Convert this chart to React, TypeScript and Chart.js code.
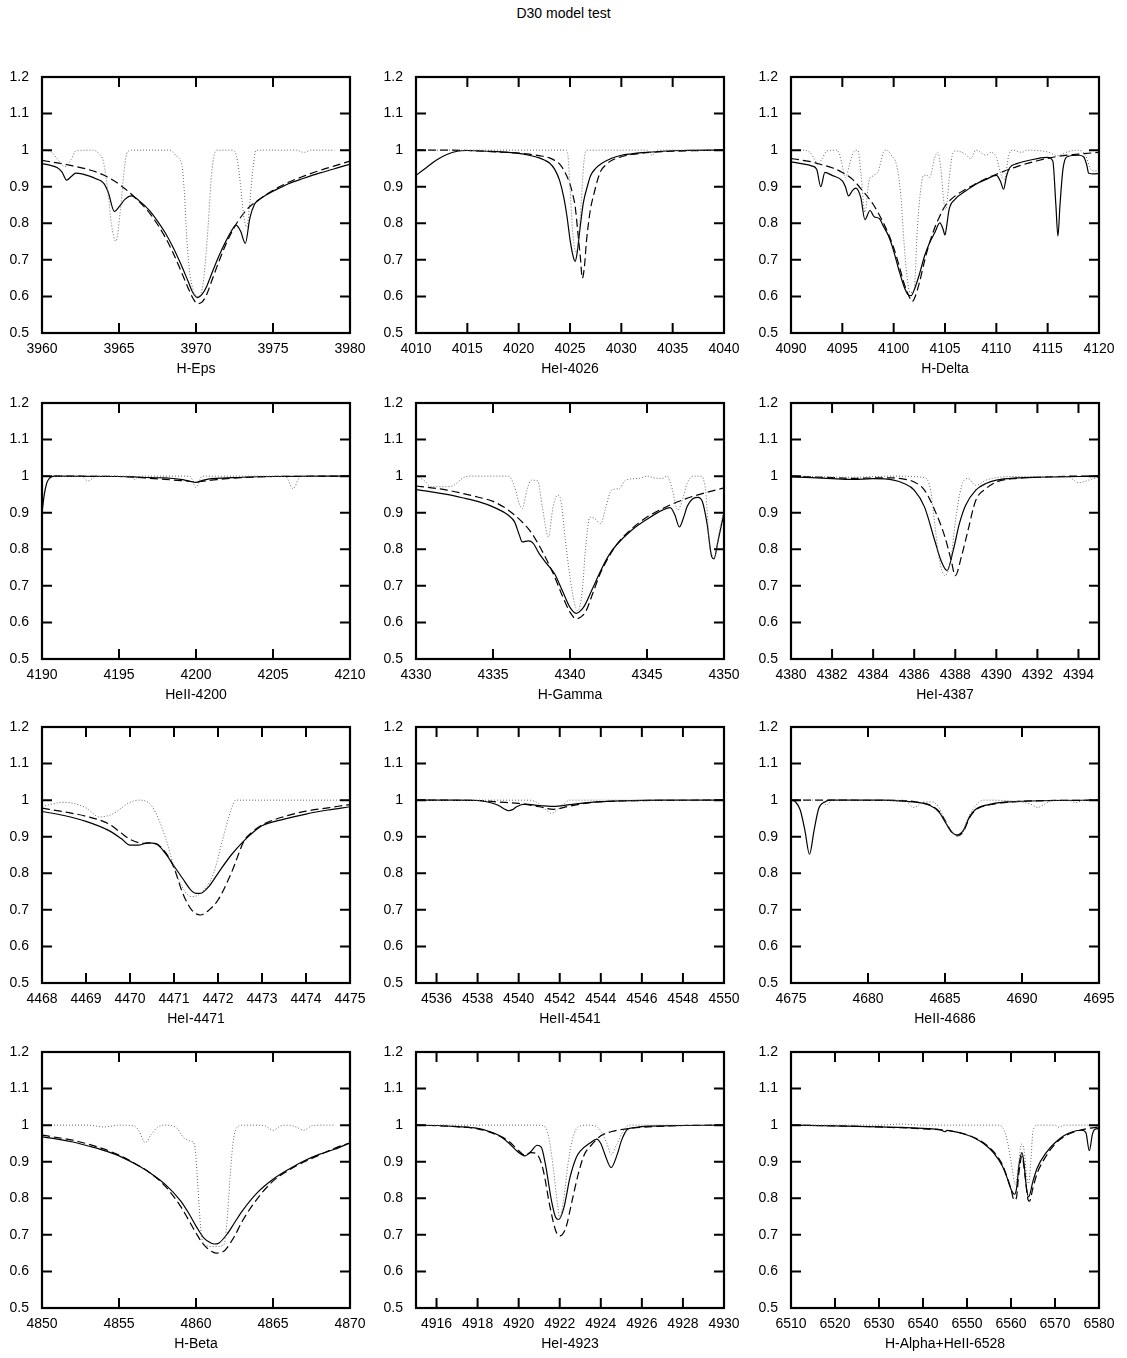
import React, { useEffect, useRef } from 'react';
import { Chart, registerables } from 'chart.js';

Chart.register(...registerables);

type Pt = [number, number];

// ---------- shared axis values ----------
const yTicks = [0.5, 0.6, 0.7, 0.8, 0.9, 1.0, 1.1, 1.2];
const yRange: [number, number] = [0.5, 1.2];
const figureTitle = 'D30 model test';

// ---------- H-Eps ----------
const hEpsRange: [number, number] = [3960, 3980];
const hEpsTicks = [3960, 3965, 3970, 3975, 3980];
const hEpsSolid: Pt[] = [[3960,0.963],[3960.5,0.959],[3961,0.952],[3961.3,0.94],[3961.6,0.918],[3961.9,0.928],[3962.2,0.937],[3962.6,0.935],[3963,0.93],[3963.5,0.922],[3964,0.91],[3964.3,0.885],[3964.7,0.832],[3965,0.845],[3965.4,0.866],[3965.8,0.875],[3966.3,0.862],[3967,0.834],[3967.5,0.806],[3968,0.774],[3968.5,0.735],[3969,0.69],[3969.5,0.64],[3969.8,0.61],[3970.1,0.597],[3970.4,0.606],[3970.7,0.628],[3971,0.66],[3971.5,0.712],[3972,0.756],[3972.3,0.779],[3972.6,0.795],[3972.9,0.778],[3973.2,0.745],[3973.5,0.815],[3973.8,0.852],[3974,0.861],[3974.5,0.876],[3975,0.888],[3975.5,0.898],[3976,0.908],[3977,0.923],[3978,0.937],[3979,0.949],[3980,0.962]];
const hEpsDashed: Pt[] = [[3960,0.972],[3961,0.965],[3962,0.957],[3963,0.947],[3964,0.932],[3965,0.907],[3966,0.872],[3967,0.827],[3968,0.762],[3968.5,0.72],[3969,0.672],[3969.5,0.622],[3969.8,0.595],[3970.1,0.58],[3970.4,0.585],[3970.7,0.606],[3971,0.64],[3971.5,0.697],[3972,0.748],[3972.5,0.79],[3973,0.822],[3973.5,0.846],[3974,0.862],[3975,0.89],[3976,0.912],[3977,0.929],[3978,0.944],[3979,0.957],[3980,0.97]];
const hEpsDotted: Pt[] = [[3960,1.0],[3960.6,0.995],[3961,0.975],[3961.5,0.955],[3961.9,0.975],[3962.2,0.998],[3963.3,1.0],[3963.7,0.99],[3964,0.966],[3964.3,0.88],[3964.5,0.8],[3964.8,0.751],[3965.1,0.84],[3965.3,0.93],[3965.5,0.99],[3965.8,1.0],[3968.3,1.0],[3968.7,0.985],[3969.1,0.955],[3969.25,0.88],[3969.4,0.76],[3969.55,0.68],[3969.8,0.62],[3970.1,0.6],[3970.4,0.62],[3970.6,0.69],[3970.8,0.8],[3971,0.93],[3971.2,0.99],[3971.4,1.0],[3972.4,1.0],[3972.7,0.97],[3972.9,0.9],[3973.1,0.82],[3973.3,0.79],[3973.5,0.86],[3973.7,0.95],[3973.9,1.0],[3976.5,1.0],[3977,0.994],[3977.5,1.0],[3979,1.0]];

// ---------- HeI-4026 ----------
const he4026Range: [number, number] = [4010, 4040];
const he4026Ticks = [4010, 4015, 4020, 4025, 4030, 4035, 4040];
const he4026Solid: Pt[] = [[4010,0.931],[4011,0.952],[4012,0.973],[4013,0.988],[4014,0.997],[4015,0.999],[4017,0.997],[4019,0.994],[4020,0.991],[4021,0.986],[4022,0.979],[4022.5,0.973],[4023,0.965],[4023.5,0.948],[4024,0.916],[4024.4,0.87],[4024.7,0.82],[4025,0.756],[4025.3,0.71],[4025.5,0.696],[4025.7,0.72],[4026,0.792],[4026.3,0.856],[4026.7,0.902],[4027,0.93],[4027.5,0.95],[4028,0.962],[4029,0.977],[4030,0.986],[4031,0.99],[4032,0.993],[4034,0.997],[4036,0.999],[4040,1.0]];
const he4026Dashed: Pt[] = [[4010,1.0],[4013,1.0],[4015,0.999],[4018,0.995],[4020,0.992],[4021,0.989],[4022,0.985],[4023,0.979],[4023.5,0.972],[4024,0.962],[4024.5,0.94],[4025,0.907],[4025.3,0.875],[4025.5,0.847],[4025.8,0.765],[4026,0.71],[4026.2,0.65],[4026.4,0.68],[4026.6,0.75],[4026.8,0.8],[4027,0.84],[4027.3,0.877],[4027.7,0.92],[4028,0.943],[4028.5,0.96],[4029,0.971],[4030,0.982],[4031,0.988],[4033,0.994],[4035,0.997],[4040,1.0]];
const he4026Dotted: Pt[] = [[4010,1.0],[4024.6,1.0],[4024.8,0.985],[4025,0.9],[4025.2,0.8],[4025.4,0.74],[4025.6,0.72],[4025.9,0.78],[4026.1,0.86],[4026.3,0.95],[4026.5,0.995],[4026.7,1.0],[4032.5,1.0],[4033,0.986],[4033.5,1.0],[4040,1.0]];

// ---------- H-Delta ----------
const hDeltaRange: [number, number] = [4090, 4120];
const hDeltaTicks = [4090, 4095, 4100, 4105, 4110, 4115, 4120];
const hDeltaSolid: Pt[] = [[4090,0.968],[4091,0.963],[4092,0.957],[4092.5,0.948],[4092.9,0.9],[4093.3,0.939],[4094,0.931],[4095,0.916],[4095.3,0.9],[4095.6,0.875],[4096,0.89],[4096.3,0.896],[4096.8,0.87],[4097.2,0.81],[4097.7,0.835],[4098.1,0.818],[4098.6,0.813],[4099,0.792],[4099.5,0.765],[4100,0.724],[4100.5,0.673],[4101,0.628],[4101.4,0.605],[4101.7,0.602],[4102,0.618],[4102.5,0.66],[4103,0.71],[4103.5,0.747],[4104,0.774],[4104.5,0.801],[4104.8,0.785],[4105,0.768],[4105.2,0.8],[4105.4,0.838],[4106,0.866],[4107,0.888],[4108,0.907],[4109,0.92],[4110,0.931],[4110.4,0.915],[4110.7,0.893],[4111,0.93],[4111.3,0.952],[4112,0.963],[4113,0.971],[4114,0.977],[4115,0.98],[4115.5,0.97],[4115.8,0.85],[4116,0.765],[4116.2,0.85],[4116.5,0.95],[4117,0.983],[4118,0.986],[4118.5,0.982],[4118.8,0.96],[4119,0.937],[4119.5,0.935],[4120,0.936]];
const hDeltaDashed: Pt[] = [[4090,0.977],[4091,0.973],[4092,0.968],[4093,0.96],[4094,0.952],[4095,0.939],[4096,0.92],[4097,0.888],[4098,0.852],[4099,0.801],[4099.5,0.77],[4100,0.733],[4100.5,0.687],[4101,0.637],[4101.5,0.6],[4101.8,0.586],[4102,0.593],[4102.5,0.637],[4103,0.696],[4103.5,0.747],[4104,0.788],[4104.5,0.82],[4105,0.847],[4106,0.875],[4107,0.893],[4108,0.908],[4109,0.922],[4110,0.934],[4112,0.955],[4114,0.971],[4116,0.983],[4118,0.989],[4120,0.994]];
const hDeltaDotted: Pt[] = [[4090,0.998],[4091,1.0],[4091.8,0.995],[4092.3,0.975],[4092.6,0.96],[4093,0.975],[4093.5,0.998],[4094.5,1.0],[4094.9,0.97],[4095.3,0.925],[4095.7,0.96],[4096,0.99],[4096.5,1.0],[4096.8,0.94],[4097.2,0.83],[4097.6,0.915],[4098,0.93],[4098.5,0.943],[4099,0.994],[4099.3,1.0],[4099.8,0.985],[4100.3,0.957],[4100.7,0.875],[4101,0.75],[4101.3,0.655],[4101.6,0.61],[4102,0.62],[4102.3,0.783],[4102.6,0.884],[4102.9,0.93],[4103.2,0.932],[4103.5,0.925],[4104,0.98],[4104.3,0.994],[4104.6,0.948],[4104.9,0.856],[4105.1,0.838],[4105.4,0.92],[4105.7,0.985],[4106,0.998],[4107,0.989],[4107.5,0.977],[4108,1.0],[4109,0.986],[4109.5,0.994],[4110,0.98],[4110.5,0.93],[4110.8,0.92],[4111.2,0.985],[4111.6,1.0],[4112.5,0.994],[4113,1.0],[4115,0.995],[4116,0.985],[4116.5,0.99],[4117,0.996],[4118,1.0],[4118.7,0.985],[4119.2,0.948],[4119.6,0.943],[4120,0.943]];

// ---------- HeII-4200 ----------
const he4200Range: [number, number] = [4190, 4210];
const he4200Ticks = [4190, 4195, 4200, 4205, 4210];
const he4200Solid: Pt[] = [[4190,0.9],[4190.15,0.95],[4190.3,0.98],[4190.5,0.995],[4190.8,1.0],[4195,0.999],[4196,0.998],[4197,0.996],[4198,0.995],[4199,0.991],[4199.5,0.987],[4200,0.983],[4200.5,0.989],[4201,0.993],[4202,0.995],[4203,0.997],[4205,0.999],[4210,1.0]];
const he4200Dashed: Pt[] = [[4190,1.0],[4195,0.999],[4196,0.997],[4197,0.994],[4198,0.991],[4199,0.988],[4200,0.985],[4201,0.989],[4202,0.993],[4203,0.996],[4205,0.999],[4210,1.0]];
const he4200Dotted: Pt[] = [[4190,1.0],[4192.5,1.0],[4193,0.987],[4193.5,1.0],[4195.7,1.0],[4196,0.991],[4196.4,1.0],[4199.6,1.0],[4200,0.969],[4200.4,1.0],[4205.8,1.0],[4206.3,0.966],[4206.8,1.0],[4208,1.0]];

// ---------- H-Gamma ----------
const hGammaRange: [number, number] = [4330, 4350];
const hGammaTicks = [4330, 4335, 4340, 4345, 4350];
const hGammaSolid: Pt[] = [[4330,0.963],[4331,0.957],[4332,0.95],[4333,0.941],[4334,0.931],[4335,0.916],[4336,0.893],[4336.4,0.875],[4336.7,0.84],[4336.9,0.82],[4337.3,0.823],[4337.6,0.817],[4338,0.788],[4338.5,0.76],[4339,0.733],[4339.5,0.687],[4340,0.641],[4340.4,0.625],[4340.8,0.637],[4341,0.65],[4341.5,0.696],[4342,0.742],[4342.5,0.782],[4343,0.811],[4344,0.852],[4345,0.882],[4346,0.907],[4346.5,0.914],[4346.8,0.895],[4347.1,0.861],[4347.4,0.89],[4347.6,0.916],[4348,0.939],[4348.3,0.942],[4348.6,0.93],[4348.9,0.87],[4349.2,0.78],[4349.35,0.774],[4349.6,0.82],[4350,0.9]];
const hGammaDashed: Pt[] = [[4330,0.973],[4331,0.968],[4332,0.962],[4333,0.953],[4334,0.943],[4335,0.931],[4336,0.907],[4337,0.87],[4337.5,0.845],[4338,0.81],[4338.5,0.77],[4339,0.725],[4339.5,0.673],[4340,0.628],[4340.4,0.61],[4340.7,0.615],[4341,0.628],[4341.5,0.682],[4342,0.737],[4343,0.811],[4344,0.856],[4345,0.888],[4346,0.911],[4347,0.93],[4348,0.945],[4349,0.957],[4350,0.968]];
const hGammaDotted: Pt[] = [[4330,1.0],[4330.5,0.989],[4331,0.971],[4332,0.971],[4332.5,0.976],[4333,0.994],[4333.5,1.0],[4336,1.0],[4336.4,0.972],[4336.7,0.925],[4336.9,0.911],[4337.2,0.962],[4337.5,0.989],[4337.9,0.987],[4338.2,0.916],[4338.6,0.834],[4338.9,0.916],[4339.2,0.948],[4339.4,0.935],[4339.7,0.824],[4340,0.724],[4340.3,0.651],[4340.5,0.632],[4340.8,0.687],[4341,0.798],[4341.3,0.888],[4341.6,0.884],[4342,0.87],[4342.3,0.911],[4342.7,0.962],[4343.2,0.966],[4343.6,0.989],[4344.5,0.994],[4345,1.0],[4345.5,0.995],[4346,0.994],[4346.3,1.0],[4346.6,0.971],[4347,0.907],[4347.3,0.935],[4347.6,0.98],[4348,1.0],[4348.5,1.0],[4348.8,0.962],[4349.1,0.798],[4349.4,0.78],[4349.7,0.85],[4350,0.907]];

// ---------- HeI-4387 ----------
const he4387Range: [number, number] = [4380, 4395];
const he4387Ticks = [4380, 4382, 4384, 4386, 4388, 4390, 4392, 4394];
const he4387Solid: Pt[] = [[4380,0.998],[4381,0.996],[4382,0.993],[4383,0.991],[4384,0.993],[4385,0.989],[4385.5,0.98],[4386,0.962],[4386.5,0.916],[4387,0.824],[4387.3,0.77],[4387.6,0.742],[4387.9,0.797],[4388.2,0.87],[4388.5,0.92],[4389,0.962],[4389.5,0.98],[4390,0.989],[4391,0.995],[4392,0.997],[4393,0.998],[4394,0.999],[4395,1.0]];
const he4387Dashed: Pt[] = [[4380,1.0],[4381,0.998],[4382,0.996],[4383,0.994],[4384,0.995],[4385,0.995],[4385.5,0.992],[4386,0.984],[4386.5,0.962],[4387,0.907],[4387.5,0.833],[4387.8,0.77],[4388,0.728],[4388.3,0.78],[4388.6,0.847],[4389,0.934],[4389.5,0.966],[4390,0.984],[4391,0.994],[4392,0.997],[4394,1.0],[4395,1.0]];
const he4387Dotted: Pt[] = [[4380,1.0],[4383,0.997],[4385,1.0],[4386.5,0.996],[4386.8,0.962],[4387,0.87],[4387.2,0.779],[4387.5,0.728],[4387.8,0.779],[4388,0.875],[4388.3,0.971],[4388.6,0.994],[4389,0.975],[4389.5,0.989],[4390,0.996],[4391,0.999],[4393.5,0.998],[4394,0.982],[4394.5,0.989],[4395,0.998]];

// ---------- HeI-4471 ----------
const he4471Range: [number, number] = [4468, 4475];
const he4471Ticks = [4468, 4469, 4470, 4471, 4472, 4473, 4474, 4475];
const he4471Solid: Pt[] = [[4468,0.969],[4468.5,0.958],[4469,0.942],[4469.5,0.918],[4469.8,0.895],[4470,0.877],[4470.2,0.877],[4470.4,0.883],[4470.6,0.88],[4470.8,0.855],[4471,0.82],[4471.2,0.785],[4471.4,0.752],[4471.5,0.745],[4471.6,0.745],[4471.8,0.765],[4472,0.8],[4472.3,0.85],[4472.6,0.89],[4472.8,0.912],[4473,0.93],[4473.5,0.948],[4474,0.962],[4474.5,0.973],[4475,0.982]];
const he4471Dashed: Pt[] = [[4468,0.978],[4468.5,0.968],[4469,0.956],[4469.5,0.936],[4469.8,0.91],[4470,0.893],[4470.3,0.882],[4470.5,0.883],[4470.7,0.872],[4470.9,0.84],[4471,0.815],[4471.2,0.745],[4471.4,0.7],[4471.6,0.686],[4471.8,0.7],[4472,0.727],[4472.3,0.8],[4472.6,0.89],[4472.8,0.915],[4473,0.932],[4473.5,0.955],[4474,0.97],[4474.5,0.979],[4475,0.988]];
const he4471Dotted: Pt[] = [[4468,0.983],[4468.5,0.994],[4469,0.979],[4469.3,0.954],[4469.6,0.962],[4470,0.994],[4470.2,1.0],[4470.5,0.983],[4470.8,0.9],[4471,0.818],[4471.2,0.76],[4471.4,0.736],[4471.6,0.745],[4471.9,0.8],[4472.1,0.89],[4472.3,0.975],[4472.4,1.0],[4475,1.0]];

// ---------- HeII-4541 ----------
const he4541Range: [number, number] = [4535, 4550];
const he4541Ticks = [4536, 4538, 4540, 4542, 4544, 4546, 4548, 4550];
const he4541Solid: Pt[] = [[4535,1.0],[4537,1.0],[4538,0.999],[4538.5,0.995],[4539,0.986],[4539.3,0.976],[4539.5,0.971],[4539.7,0.974],[4539.9,0.982],[4540.3,0.989],[4541,0.985],[4541.7,0.983],[4542.5,0.988],[4543.5,0.994],[4545,0.998],[4547,1.0],[4550,1.0]];
const he4541Dashed: Pt[] = [[4535,1.0],[4538,0.999],[4539,0.995],[4540,0.991],[4541,0.982],[4541.7,0.975],[4542.5,0.984],[4543.5,0.993],[4545,0.998],[4550,1.0]];
const he4541Dotted: Pt[] = [[4535,1.0],[4540.5,1.0],[4541,0.99],[4541.3,0.975],[4541.6,0.964],[4541.9,0.975],[4542.2,0.99],[4542.5,1.0],[4550,1.0]];

// ---------- HeII-4686 ----------
const he4686Range: [number, number] = [4675, 4695];
const he4686Ticks = [4675, 4680, 4685, 4690, 4695];
const he4686Solid: Pt[] = [[4675,1.0],[4675.3,0.995],[4675.6,0.973],[4675.9,0.918],[4676.2,0.852],[4676.5,0.918],[4676.8,0.977],[4677.2,0.995],[4677.5,1.0],[4681,1.0],[4682,0.998],[4683,0.995],[4684,0.986],[4684.6,0.968],[4685,0.941],[4685.4,0.914],[4685.8,0.905],[4686.2,0.918],[4686.6,0.955],[4687,0.975],[4688,0.989],[4689,0.995],[4690,0.997],[4692,0.999],[4695,1.0]];
const he4686Dashed: Pt[] = [[4675,1.0],[4682,0.999],[4683,0.996],[4684,0.987],[4684.6,0.97],[4685,0.945],[4685.4,0.915],[4685.8,0.902],[4686.2,0.915],[4686.6,0.952],[4687,0.973],[4688,0.988],[4689,0.994],[4690,0.997],[4695,1.0]];
const he4686Dotted: Pt[] = [[4675,1.0],[4677,1.0],[4677.3,0.986],[4677.7,1.0],[4682.3,1.0],[4683,0.98],[4683.6,0.995],[4684.2,0.995],[4684.6,0.98],[4685,0.945],[4685.5,0.91],[4686,0.903],[4686.5,0.952],[4687,0.985],[4687.5,1.0],[4690.5,0.99],[4691,0.98],[4691.5,0.99],[4692,1.0],[4693,1.0],[4693.5,0.993],[4694,1.0],[4695,1.0]];

// ---------- H-Beta ----------
const hBetaRange: [number, number] = [4850, 4870];
const hBetaTicks = [4850, 4855, 4860, 4865, 4870];
const hBetaSolid: Pt[] = [[4850,0.968],[4851,0.962],[4852,0.954],[4853,0.943],[4854,0.931],[4855,0.916],[4856,0.895],[4857,0.87],[4858,0.838],[4859,0.793],[4859.5,0.761],[4860,0.724],[4860.5,0.692],[4861,0.677],[4861.2,0.675],[4861.5,0.678],[4862,0.701],[4862.5,0.733],[4863,0.765],[4864,0.816],[4865,0.852],[4866,0.879],[4867,0.902],[4868,0.92],[4869,0.934],[4870,0.951]];
const hBetaDashed: Pt[] = [[4850,0.973],[4851,0.966],[4852,0.959],[4853,0.948],[4854,0.935],[4855,0.918],[4856,0.896],[4857,0.87],[4858,0.833],[4859,0.778],[4859.5,0.742],[4860,0.705],[4860.5,0.673],[4861,0.655],[4861.3,0.65],[4861.8,0.655],[4862,0.664],[4862.5,0.696],[4863,0.737],[4864,0.8],[4865,0.847],[4866,0.876],[4867,0.899],[4868,0.918],[4869,0.937],[4870,0.952]];
const hBetaDotted: Pt[] = [[4850,1.0],[4853,1.0],[4854,0.995],[4855,1.0],[4856,0.998],[4856.3,0.984],[4856.7,0.952],[4857.1,0.975],[4857.5,0.994],[4858,1.0],[4858.7,0.994],[4859.2,0.966],[4859.6,0.957],[4859.9,0.948],[4860.05,0.88],[4860.2,0.78],[4860.35,0.7],[4860.6,0.672],[4861.2,0.668],[4861.8,0.672],[4862,0.73],[4862.2,0.85],[4862.4,0.95],[4862.6,0.99],[4863,1.0],[4864,1.0],[4864.5,0.998],[4865,0.986],[4865.5,0.998],[4866,1.0],[4866.5,0.995],[4867,0.986],[4867.5,0.998],[4868,1.0],[4869,1.0]];

// ---------- HeI-4923 ----------
const he4923Range: [number, number] = [4915, 4930];
const he4923Ticks = [4916, 4918, 4920, 4922, 4924, 4926, 4928, 4930];
const he4923Solid: Pt[] = [[4915,1.0],[4916,0.999],[4917,0.996],[4918,0.991],[4918.5,0.984],[4919,0.973],[4919.5,0.952],[4920,0.925],[4920.3,0.916],[4920.6,0.928],[4920.9,0.945],[4921.1,0.94],[4921.3,0.894],[4921.6,0.793],[4921.8,0.748],[4921.95,0.742],[4922.2,0.774],[4922.5,0.857],[4922.8,0.911],[4923,0.929],[4923.5,0.952],[4923.8,0.962],[4924,0.95],[4924.2,0.92],[4924.5,0.884],[4924.8,0.92],[4925,0.957],[4925.3,0.989],[4925.6,0.993],[4926,0.996],[4928,0.999],[4930,1.0]];
const he4923Dashed: Pt[] = [[4915,1.0],[4917,0.996],[4918,0.99],[4919,0.972],[4919.5,0.957],[4920,0.93],[4920.3,0.918],[4920.6,0.925],[4920.9,0.92],[4921.2,0.876],[4921.5,0.784],[4921.8,0.712],[4922,0.697],[4922.3,0.72],[4922.6,0.793],[4922.9,0.866],[4923.2,0.92],[4923.5,0.943],[4924,0.971],[4924.5,0.982],[4925,0.988],[4926,0.994],[4928,0.999],[4930,1.0]];
const he4923Dotted: Pt[] = [[4915,1.0],[4921,1.0],[4921.3,0.994],[4921.5,0.957],[4921.7,0.876],[4921.9,0.78],[4922,0.746],[4922.2,0.8],[4922.4,0.893],[4922.6,0.957],[4922.8,0.989],[4923,0.998],[4923.3,1.0],[4923.7,0.998],[4924,0.984],[4924.3,0.95],[4924.5,0.92],[4924.8,0.95],[4925.1,0.985],[4925.4,1.0],[4930,1.0]];

// ---------- H-Alpha+HeII-6528 ----------
const hAlphaRange: [number, number] = [6510, 6580];
const hAlphaTicks = [6510, 6520, 6530, 6540, 6550, 6560, 6570, 6580];
const hAlphaSolid: Pt[] = [[6510,1.0],[6520,0.998],[6530,0.995],[6535,0.994],[6540,0.991],[6544,0.987],[6545,0.982],[6545.5,0.986],[6546,0.985],[6548,0.98],[6550,0.973],[6552,0.963],[6554,0.948],[6556,0.925],[6558,0.889],[6559,0.86],[6560,0.825],[6560.8,0.811],[6561.3,0.83],[6561.8,0.89],[6562.5,0.925],[6563,0.89],[6563.5,0.83],[6564,0.804],[6565,0.847],[6566,0.884],[6568,0.925],[6570,0.952],[6572,0.971],[6574,0.982],[6576,0.986],[6577,0.98],[6577.8,0.93],[6578.5,0.975],[6579,0.988],[6580,0.991]];
const hAlphaDashed: Pt[] = [[6510,1.0],[6520,0.998],[6530,0.995],[6540,0.99],[6545,0.986],[6550,0.974],[6552,0.964],[6554,0.95],[6556,0.928],[6558,0.893],[6559,0.862],[6560,0.825],[6560.7,0.795],[6561.2,0.8],[6561.8,0.87],[6562.5,0.915],[6563.2,0.86],[6563.8,0.8],[6564.2,0.792],[6565,0.829],[6566,0.87],[6568,0.916],[6570,0.948],[6572,0.968],[6574,0.98],[6576,0.987],[6578,0.992],[6580,0.995]];
const hAlphaDotted: Pt[] = [[6510,1.0],[6530,1.0],[6535,1.003],[6540,1.0],[6557,1.0],[6558,0.995],[6559,0.966],[6560,0.902],[6561,0.838],[6561.8,0.9],[6562.3,0.948],[6563,0.93],[6563.5,0.866],[6564,0.84],[6564.5,0.9],[6565,0.984],[6566,1.0],[6570,1.0],[6571,0.994],[6572,1.0],[6578,1.0]];

// ---------- panel table (built from the arrays above) ----------
type PanelCfg = { title: string; range: [number, number]; ticks: number[]; solid: Pt[]; dashed: Pt[]; dotted: Pt[] };
const panels: PanelCfg[] = [
  { title: 'H-Eps', range: hEpsRange, ticks: hEpsTicks, solid: hEpsSolid, dashed: hEpsDashed, dotted: hEpsDotted },
  { title: 'HeI-4026', range: he4026Range, ticks: he4026Ticks, solid: he4026Solid, dashed: he4026Dashed, dotted: he4026Dotted },
  { title: 'H-Delta', range: hDeltaRange, ticks: hDeltaTicks, solid: hDeltaSolid, dashed: hDeltaDashed, dotted: hDeltaDotted },
  { title: 'HeII-4200', range: he4200Range, ticks: he4200Ticks, solid: he4200Solid, dashed: he4200Dashed, dotted: he4200Dotted },
  { title: 'H-Gamma', range: hGammaRange, ticks: hGammaTicks, solid: hGammaSolid, dashed: hGammaDashed, dotted: hGammaDotted },
  { title: 'HeI-4387', range: he4387Range, ticks: he4387Ticks, solid: he4387Solid, dashed: he4387Dashed, dotted: he4387Dotted },
  { title: 'HeI-4471', range: he4471Range, ticks: he4471Ticks, solid: he4471Solid, dashed: he4471Dashed, dotted: he4471Dotted },
  { title: 'HeII-4541', range: he4541Range, ticks: he4541Ticks, solid: he4541Solid, dashed: he4541Dashed, dotted: he4541Dotted },
  { title: 'HeII-4686', range: he4686Range, ticks: he4686Ticks, solid: he4686Solid, dashed: he4686Dashed, dotted: he4686Dotted },
  { title: 'H-Beta', range: hBetaRange, ticks: hBetaTicks, solid: hBetaSolid, dashed: hBetaDashed, dotted: hBetaDotted },
  { title: 'HeI-4923', range: he4923Range, ticks: he4923Ticks, solid: he4923Solid, dashed: he4923Dashed, dotted: he4923Dotted },
  { title: 'H-Alpha+HeII-6528', range: hAlphaRange, ticks: hAlphaTicks, solid: hAlphaSolid, dashed: hAlphaDashed, dotted: hAlphaDotted },
];

// ---------- layout ----------
const FONT = "'Liberation Sans', Arial, Helvetica, sans-serif";
const COL_LEFT = [42, 416, 791];
const ROW_TOP = [77, 403, 727, 1052];
const PLOT_W = 308;
const PLOT_H = 256;
const AX_W = 40;
const AX_H = 47;
const PAD_T = 22; // >= y-label half height + y tick padding, so it is the effective top inset
const PAD_R = 25;
const CANVAS_W = AX_W + PLOT_W + PAD_R;
const CANVAS_H = PAD_T + PLOT_H + AX_H;

const framePlugin = {
  id: 'gnuplotFrame',
  afterDraw(chart: any) {
    const { ctx, chartArea } = chart;
    const { left, top, right, bottom } = chartArea;
    const xs = chart.scales.x;
    const ys = chart.scales.y;
    const tl = 10;
    ctx.save();
    ctx.strokeStyle = '#000';
    ctx.lineWidth = 2;
    ctx.setLineDash([]);
    ctx.beginPath();
    xs.ticks.forEach((t: any) => {
      const px = xs.getPixelForValue(t.value);
      if (px <= left + 1 || px >= right - 1) return;
      ctx.moveTo(px, bottom); ctx.lineTo(px, bottom - tl);
      ctx.moveTo(px, top); ctx.lineTo(px, top + tl);
    });
    ys.ticks.forEach((t: any) => {
      const py = ys.getPixelForValue(t.value);
      if (py <= top + 1 || py >= bottom - 1) return;
      ctx.moveTo(left, py); ctx.lineTo(left + tl, py);
      ctx.moveTo(right, py); ctx.lineTo(right - tl, py);
    });
    ctx.stroke();
    ctx.lineWidth = 2.2;
    ctx.strokeRect(left, top, right - left, bottom - top);
    ctx.restore();
  },
};

function Panel({ cfg, left, top }: { cfg: PanelCfg; left: number; top: number }) {
  const ref = useRef<HTMLCanvasElement>(null);
  useEffect(() => {
    if (!ref.current) return;
    const toXY = (pts: Pt[]) => pts.map(([x, y]) => ({ x, y }));
    const font = { family: FONT, size: 14 };
    const chart = new Chart(ref.current, {
      type: 'line',
      data: {
        datasets: [
          { data: toXY(cfg.dotted), borderColor: '#666', borderWidth: 1, borderDash: [1, 2], pointRadius: 0, fill: false, cubicInterpolationMode: 'monotone' },
          { data: toXY(cfg.dashed), borderColor: '#000', borderWidth: 1.2, borderDash: [8, 4], pointRadius: 0, fill: false, cubicInterpolationMode: 'monotone' },
          { data: toXY(cfg.solid), borderColor: '#000', borderWidth: 1.2, pointRadius: 0, fill: false, cubicInterpolationMode: 'monotone' },
        ] as any,
      },
      options: {
        responsive: false,
        animation: false,
        devicePixelRatio: 1,
        events: [],
        layout: { autoPadding: false, padding: { left: 0, top: PAD_T, right: PAD_R, bottom: 0 } },
        plugins: { legend: { display: false }, tooltip: { enabled: false } },
        scales: {
          x: {
            type: 'linear',
            min: cfg.range[0],
            max: cfg.range[1],
            grid: { display: false, drawTicks: false },
            border: { display: false },
            afterBuildTicks: (s: any) => { s.ticks = cfg.ticks.map((v) => ({ value: v })); },
            afterFit: (s: any) => { s.height = AX_H; },
            ticks: { autoSkip: false, maxRotation: 0, minRotation: 0, padding: 8, color: '#000', font, callback: (v: any) => String(v) },
            title: { display: true, text: cfg.title, color: '#000', font, padding: { top: 0, bottom: 2 } },
          },
          y: {
            type: 'linear',
            min: yRange[0],
            max: yRange[1],
            grid: { display: false, drawTicks: false },
            border: { display: false },
            afterBuildTicks: (s: any) => { s.ticks = yTicks.map((v) => ({ value: v })); },
            afterFit: (s: any) => { s.width = AX_W; },
            ticks: { autoSkip: false, padding: 13, color: '#000', font, callback: (v: any) => String(Math.round(Number(v) * 10) / 10) },
          },
        },
      } as any,
      plugins: [framePlugin],
    });
    return () => chart.destroy();
  }, [cfg]);
  return (
    <canvas
      ref={ref}
      width={CANVAS_W}
      height={CANVAS_H}
      style={{ position: 'absolute', left, top, width: CANVAS_W, height: CANVAS_H }}
    />
  );
}

export default function App() {
  return (
    <div style={{ position: 'absolute', left: 0, top: 0, width: 1127, height: 1358, background: '#fff', fontFamily: FONT }}>
      <div style={{ position: 'absolute', left: 0, top: 5, width: 1127, textAlign: 'center', fontSize: 14, lineHeight: '16px', color: '#000' }}>
        {figureTitle}
      </div>
      {panels.map((p, i) => (
        <Panel
          key={p.title}
          cfg={p}
          left={COL_LEFT[i % 3] - AX_W}
          top={ROW_TOP[Math.floor(i / 3)] - PAD_T}
        />
      ))}
    </div>
  );
}
